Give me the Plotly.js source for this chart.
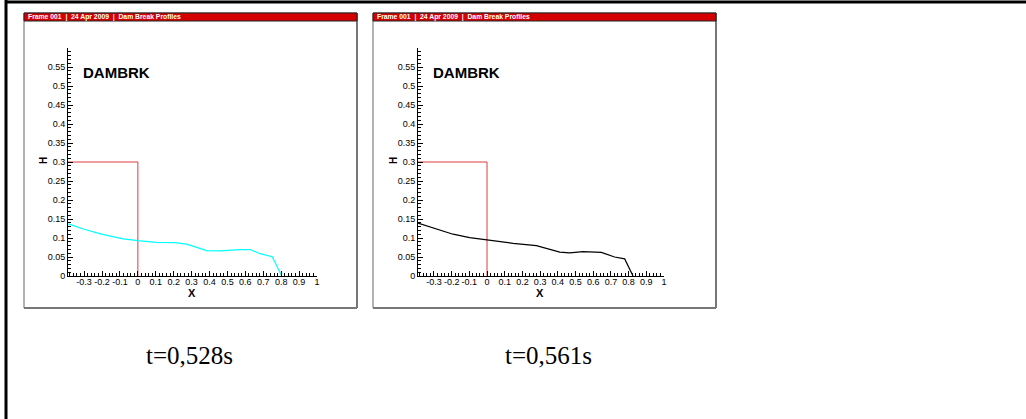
<!DOCTYPE html>
<html>
<head>
<meta charset="utf-8">
<script src="https://cdn.plot.ly/plotly-3.0.1.min.js"></script>
<style>html,body{margin:0;padding:0;background:#fff;}#chart{width:1026px;height:419px;}</style>
</head>
<body>
<div id="chart"></div>
<script>
// ---- data ----
const damX = [-0.39, 0, 0];
const damH = [0.3, 0.3, 0];

const x528 = [-0.389, -0.30, -0.203, -0.082, 0, 0.104, 0.207, 0.272, 0.384, 0.458, 0.570, 0.626, 0.682, 0.750, 0.803];
const h528 = [0.137, 0.123, 0.110, 0.0976, 0.093, 0.0885, 0.0876, 0.084, 0.0668, 0.066, 0.0696, 0.0696, 0.0587, 0.0506, 0.0];

const x561 = [-0.390, -0.286, -0.192, -0.098, 0, 0.147, 0.279, 0.354, 0.411, 0.467, 0.542, 0.646, 0.721, 0.778, 0.825];
const h561 = [0.139, 0.124, 0.110, 0.101, 0.095, 0.086, 0.080, 0.0696, 0.063, 0.061, 0.064, 0.062, 0.050, 0.045, 0.0];

const xTickVals = [-0.3, -0.2, -0.1, 0, 0.1, 0.2, 0.3, 0.4, 0.5, 0.6, 0.7, 0.8, 0.9, 1];
const xTickText = ["-0.3", "-0.2", "-0.1", "0", "0.1", "0.2", "0.3", "0.4", "0.5", "0.6", "0.7", "0.8", "0.9", "1"];
const yTickVals = [0, 0.05, 0.1, 0.15, 0.2, 0.25, 0.3, 0.35, 0.4, 0.45, 0.5, 0.55];
const yTickText = ["0", "0.05", "0.1", "0.15", "0.2", "0.25", "0.3", "0.35", "0.4", "0.45", "0.5", "0.55"];

const headerText = "Frame 001  |  24 Apr 2009  |  Dam Break Profiles";
const plotLabel = "DAMBRK";
const captions = ["t=0,528s", "t=0,561s"];

// ---- layout helpers ----
const W = 1026, H = 419;
const px = v => v / W;
const py = v => 1 - v / H;

const panels = [
  {left: 24, right: 357, top: 13, bottom: 308, axL: 68, axR: 317, cap: 189},
  {left: 373, right: 716, top: 13, bottom: 308, axL: 418, axR: 664, cap: 548}
];
const axTop = 48, axBot = 276;

function xAxis(p, anchor) {
  return {
    domain: [px(p.axL), px(p.axR)], anchor: anchor, range: [-0.39, 1.0],
    showgrid: false, zeroline: false, showline: true, linecolor: '#000', linewidth: 1,
    ticks: 'inside', ticklen: 5, tickcolor: '#000', tickwidth: 1,
    tickmode: 'array', tickvals: xTickVals, ticktext: xTickText,
    ticklabelstandoff: -3,
    tickfont: {family: 'Liberation Sans, Arial', size: 9, color: '#000'},
    minor: {dtick: 0.02, tick0: 0, ticks: 'inside', ticklen: 3, tickcolor: '#000', tickwidth: 1, showgrid: false},
    fixedrange: true
  };
}
function yAxis(anchor) {
  return {
    domain: [py(axBot), py(axTop)], anchor: anchor, range: [0, 0.6],
    showgrid: false, zeroline: false, showline: true, linecolor: '#000', linewidth: 1,
    ticks: 'inside', ticklen: 5, tickcolor: '#000', tickwidth: 1,
    tickmode: 'array', tickvals: yTickVals, ticktext: yTickText,
    tickfont: {family: 'Liberation Sans, Arial', size: 9, color: '#000'},
    minor: {dtick: 0.01, tick0: 0, ticks: 'inside', ticklen: 3, tickcolor: '#000', tickwidth: 1, showgrid: false},
    fixedrange: true
  };
}

const traces = [
  {x: damX, y: damH, xaxis: 'x', yaxis: 'y', mode: 'lines', line: {color: '#e03a3a', width: 1}, hoverinfo: 'skip'},
  {x: x528, y: h528, xaxis: 'x', yaxis: 'y', mode: 'lines', line: {color: '#00ffff', width: 1.2}, hoverinfo: 'skip'},
  {x: damX, y: damH, xaxis: 'x2', yaxis: 'y2', mode: 'lines', line: {color: '#e03a3a', width: 1}, hoverinfo: 'skip'},
  {x: x561, y: h561, xaxis: 'x2', yaxis: 'y2', mode: 'lines', line: {color: '#000000', width: 1.2}, hoverinfo: 'skip'}
];

const shapes = [
  // outer border
  {type: 'line', xref: 'paper', yref: 'paper', x0: px(5), x1: 1, y0: py(2), y1: py(2), line: {color: '#000', width: 3}},
  {type: 'line', xref: 'paper', yref: 'paper', x0: px(6), x1: px(6), y0: py(0), y1: 0, line: {color: '#000', width: 3}}
];
const annotations = [];

panels.forEach((p, i) => {
  // panel frame
  shapes.push({type: 'rect', xref: 'paper', yref: 'paper', x0: px(p.left), x1: px(p.right), y0: py(p.bottom), y1: py(p.top), line: {color: '#666', width: 1}, fillcolor: 'rgba(0,0,0,0)'});
  shapes.push({type: 'line', xref: 'paper', yref: 'paper', x0: px(p.right), x1: px(p.right), y0: py(p.bottom), y1: py(p.top), line: {color: '#777', width: 2}});
  shapes.push({type: 'line', xref: 'paper', yref: 'paper', x0: px(p.left), x1: px(p.right), y0: py(p.bottom), y1: py(p.bottom), line: {color: '#777', width: 2}});
  // header bar
  shapes.push({type: 'rect', xref: 'paper', yref: 'paper', x0: px(p.left), x1: px(p.right), y0: py(21), y1: py(p.top), line: {color: '#222', width: 1}, fillcolor: '#d40000'});
  annotations.push({xref: 'paper', yref: 'paper', x: px(p.left + 2), y: py(17), xanchor: 'left', yanchor: 'middle', text: '<b>' + headerText + '</b>', showarrow: false, font: {family: 'Liberation Sans, Arial', size: 6.8, color: '#fff'}});
  // DAMBRK label
  annotations.push({xref: 'paper', yref: 'paper', x: px(p.axL + 13), y: py(73), xanchor: 'left', yanchor: 'middle', text: '<b>' + plotLabel + '</b>', showarrow: false, font: {family: 'Liberation Sans, Arial', size: 15, color: '#000'}});
  // axis titles
  annotations.push({xref: 'paper', yref: 'paper', x: px(p.axL - 25), y: py(161), xanchor: 'center', yanchor: 'middle', text: '<b>H</b>', textangle: -90, showarrow: false, font: {family: 'Liberation Sans, Arial', size: 10, color: '#000'}});
  annotations.push({xref: 'paper', yref: 'paper', x: px((p.axL + p.axR) / 2 - 1), y: py(293), xanchor: 'center', yanchor: 'middle', text: '<b>X</b>', showarrow: false, font: {family: 'Liberation Sans, Arial', size: 11, color: '#000'}});
  // caption
  annotations.push({xref: 'paper', yref: 'paper', x: px(p.cap), y: py(355), xanchor: 'center', yanchor: 'middle', text: captions[i], showarrow: false, font: {family: 'Liberation Serif, Times New Roman, serif', size: 25, color: '#000'}});
});

const layout = {
  width: W, height: H, margin: {l: 0, r: 0, t: 0, b: 0},
  paper_bgcolor: '#fff', plot_bgcolor: 'rgba(0,0,0,0)', showlegend: false,
  xaxis: xAxis(panels[0], 'y'), yaxis: yAxis('x'),
  xaxis2: xAxis(panels[1], 'y2'), yaxis2: yAxis('x2'),
  shapes: shapes, annotations: annotations
};

Plotly.newPlot('chart', traces, layout, {staticPlot: true, displayModeBar: false});
</script>
</body>
</html>
